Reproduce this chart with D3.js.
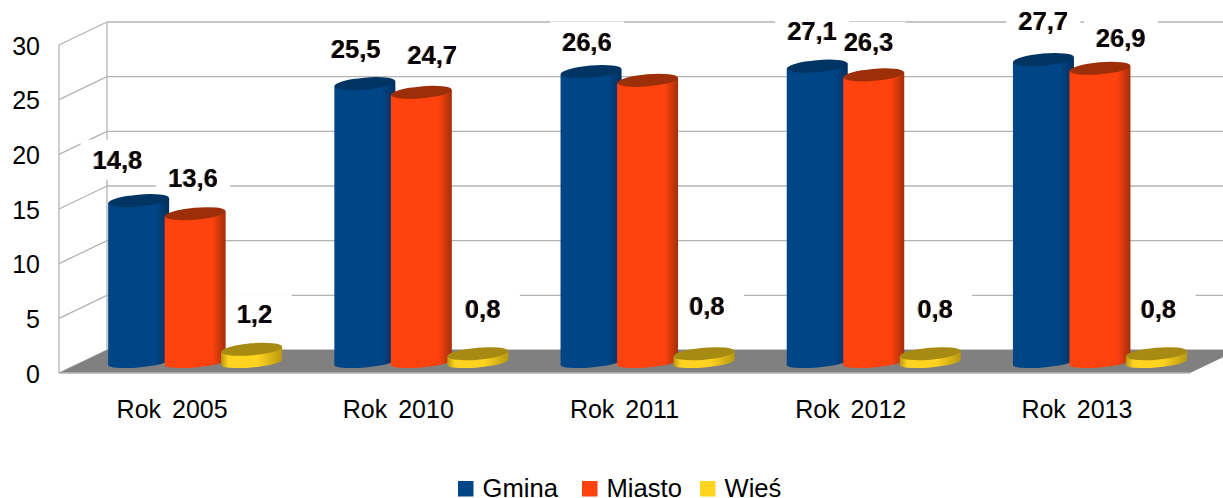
<!DOCTYPE html>
<html>
<head>
<meta charset="utf-8">
<script src="https://cdnjs.cloudflare.com/ajax/libs/d3/7.8.5/d3.min.js"></script>
<style>
	html, body { margin: 0; padding: 0; background: #fff; overflow: hidden; }
	svg { display: block; font-family: "Liberation Sans", Arial, sans-serif; }
	.value_label { font-weight: bold; font-size: 25.5px; fill: #05050f;
		filter: drop-shadow(-0.9px 0 0 rgba(235,150,50,.8)) drop-shadow(0.9px 0 0 rgba(60,140,220,.7)); }
</style>
</head>
<body>
<div id="chart"></div>
<script>
var categories = ["Rok 2005", "Rok 2010", "Rok 2011", "Rok 2012", "Rok 2013"];
var series_names = ["Gmina", "Miasto", "Wieś"];
var gmina = [14.8, 25.5, 26.6, 27.1, 27.7];
var miasto = [13.6, 24.7, 25.8, 26.3, 26.9];
var wies = [1.2, 0.8, 0.8, 0.8, 0.8];
var y_ticks = [0, 5, 10, 15, 20, 25, 30];

// printed labels, the source shows 26,6 and 0,8 with a comma
var format_value = function(v) { return v.toFixed(1).replace(".", ","); };

var width = 1223, height = 498;
var left = 59, right = 1190, bottom = 373, top_y = 45;
var depth_x = 48, depth_y = -23;
var bar_depth_x = 0.48, bar_depth_y = 0.46;

// label nudges, series by category, because the source placed them by hand
var nudge_x = [[-21, -9, -4, -5, 0], [-2, 11, 0, -5, 21], [3, 5, 3, 5, 2]];
var nudge_y = [[-2, 4, 9, 4, 1], [3, 2, 4, 6, 9], [4, -6, -9, -6, -6]];
// Miasto 2011 has no label in the source
var hidden_label = { "Miasto|Rok 2011": true };

var colors = [
	{ main: "#004586", dark: "#002f5c", top: "#003462" },
	{ main: "#ff420e", dark: "#a32f09", top: "#9c2e08" },
	{ main: "#ffd320", dark: "#b89810", top: "#a68a12" }
];

var x0 = d3.scaleBand().domain(categories).range([left, right]);
var x1 = d3.scaleBand().domain(series_names).range([-84.75, 84.75]);
var y = d3.scaleLinear().domain([0, 30]).range([bottom, top_y]);

var svg = d3.select("#chart").append("svg")
	.attr("width", width)
	.attr("height", height);

var defs = svg.append("defs");
colors.forEach(function(c, i) {
	var g = defs.append("linearGradient").attr("id", "bar_grad" + i);
	g.append("stop").attr("offset", "0%").attr("stop-color", i == 2 ? c.dark : c.main);
	g.append("stop").attr("offset", i == 2 ? "12%" : "55%").attr("stop-color", c.main);
	g.append("stop").attr("offset", i == 2 ? "60%" : "78%").attr("stop-color", c.main);
	g.append("stop").attr("offset", "100%").attr("stop-color", c.dark);
});

// walls
var grid = svg.append("g")
	.attr("stroke", "#b3b3b3")
	.attr("stroke-width", 1.3)
	.attr("fill", "none");

y_ticks.forEach(function(t) {
	grid.append("line")
		.attr("x1", left).attr("y1", y(t))
		.attr("x2", left + depth_x).attr("y2", y(t) + depth_y);
	grid.append("line")
		.attr("x1", left + depth_x).attr("y1", y(t) + depth_y)
		.attr("x2", right + depth_x).attr("y2", y(t) + depth_y);
});
grid.append("line")
	.attr("x1", left).attr("y1", y(0))
	.attr("x2", left).attr("y2", y(30));
grid.append("line")
	.attr("x1", left + depth_x).attr("y1", y(0) + depth_y)
	.attr("x2", left + depth_x).attr("y2", y(30) + depth_y);

// floor
svg.append("path")
	.attr("fill", "#808080")
	.attr("d", d3.line()([
		[left, y(0)],
		[right, y(0)],
		[right + depth_x, y(0) + depth_y],
		[left + depth_x, y(0) + depth_y]
	]));
svg.append("line")
	.attr("x1", left).attr("y1", y(0))
	.attr("x2", right).attr("y2", y(0))
	.attr("stroke", "#b3b3b3")
	.attr("stroke-width", 1.3);

var rows = [gmina, miasto, wies];

// label plates first, they cut the grid lines like in the source
var plates = svg.append("g");
var bars = svg.append("g");
var labels = svg.append("g");

var rx = 30.5, ry = 6, ry_base = 5, tilt = 2.6;

function bar_cx(cat, s) {
	return x0(cat) + x0.bandwidth() / 2 + x1(s) + x1.bandwidth() / 2 + bar_depth_x * depth_x;
}
function bar_y(v) {
	return y(v) + bar_depth_y * depth_y;
}

categories.forEach(function(cat, ci) {
	series_names.forEach(function(s, si) {
		var v = rows[si][ci];
		var cx = bar_cx(cat, s);
		var y_top = bar_y(v), y_base = bar_y(0);
		var g = bars.append("g");

		g.append("path")
			.attr("fill", "url(#bar_grad" + si + ")")
			.attr("d", "M" + (cx - rx) + "," + (y_top + tilt)
				+ "L" + (cx - rx) + "," + (y_base + tilt)
				+ "A" + rx + "," + ry_base + " -5 0 0 " + (cx + rx) + "," + (y_base - tilt)
				+ "L" + (cx + rx) + "," + (y_top - tilt) + "Z");
		g.append("ellipse")
			.attr("cx", cx).attr("cy", y_top)
			.attr("rx", rx).attr("ry", ry)
			.attr("transform", "rotate(-5 " + cx + " " + y_top + ")")
			.attr("fill", colors[si].top);

		if (hidden_label[s + "|" + cat]) {
			return;
		}

		var lx = cx + nudge_x[si][ci];
		var ly = y_top - 39 + nudge_y[si][ci];
		plates.append("rect")
			.attr("x", lx - 37).attr("y", ly - 20)
			.attr("width", 74).attr("height", 40)
			.attr("fill", "#fff");
		labels.append("text")
			.attr("class", "value_label")
			.attr("x", lx).attr("y", ly)
			.attr("dy", "0.35em")
			.attr("text-anchor", "middle")
			.text(format_value(v));
	});
});

// axis texts
svg.append("g").selectAll("text")
	.data(y_ticks)
	.enter().append("text")
	.attr("x", 40)
	.attr("y", function(d) { return y(d) + 1; })
	.attr("dy", "0.35em")
	.attr("text-anchor", "end")
	.attr("font-size", 25)
	.attr("fill", "#000")
	.text(function(d) { return d; });

svg.append("g").selectAll("text")
	.data(categories)
	.enter().append("text")
	.attr("x", function(d) { return x0(d) + x0.bandwidth() / 2; })
	.attr("y", 418)
	.attr("text-anchor", "middle")
	.attr("font-size", 25)
	.attr("fill", "#000")
	.style("word-spacing", "4px")
	.text(function(d) { return d; });

// legend
var legend_x = [458, 582, 700];
var legend = svg.append("g").selectAll("g")
	.data(series_names)
	.enter().append("g")
	.attr("transform", function(d, i) { return "translate(" + legend_x[i] + ",481)"; });
legend.append("rect")
	.attr("width", 15.5).attr("height", 15.5)
	.attr("fill", function(d, i) { return colors[i].main; });
legend.append("text")
	.attr("x", 24.5).attr("y", 15.5)
	.attr("font-size", 25.6)
	.attr("fill", "#000")
	.text(function(d) { return d; });
</script>
</body>
</html>
